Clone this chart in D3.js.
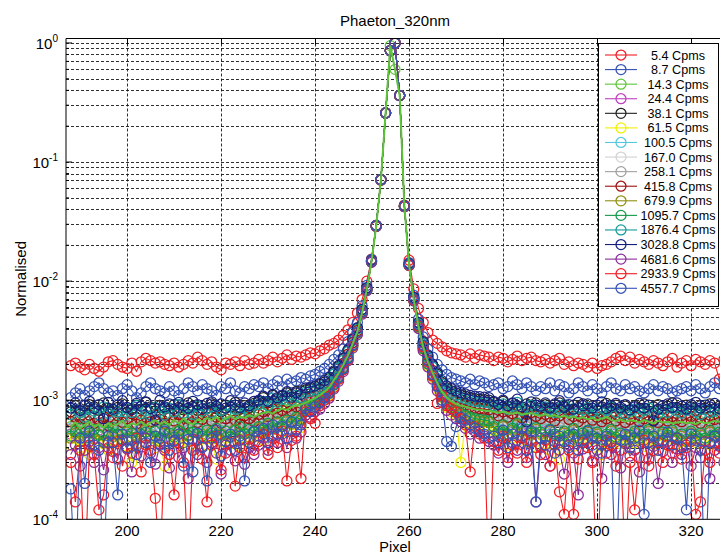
<!DOCTYPE html>
<html lang="en">
<head>
<meta charset="UTF-8">
<title>Phaeton_320nm</title>
<script type="text/javascript" src="https://cdnjs.cloudflare.com/ajax/libs/d3/7.8.5/d3.min.js"></script>
<style>
  body { margin: 0; background: #fff; }
  svg { font-family: "Liberation Sans", Arial, sans-serif; }
</style>
</head>
<body>
<div id="displayhere"></div>
<script>
// Pixel numbers of the samples (188 .. 327)
var firstPixel = 188, lastPixel = 327;
var pixels = d3.range(firstPixel, lastPixel + 1);

// Normalised values, in units of 1e-5 (100000 = 1.0), one row = 10 pixels
var unit = 1e-5;

var cps5_4 = [
  195,205,190,180,200,185,175,190,210,215, 200,190,185,205,175,210,225,215,205,210,
  200,195,205,190,200,215,205,230,215,200, 210,190,180,205,200,210,195,215,200,205,
  220,205,215,230,210,225,240,220,235,230, 240,250,245,260,270,290,300,320,350,390,
  450,540,700,1000,1530,2950,7150,25900,86200,100000, 36300,4350,1500,860,590,450,370,320,300,280,
  260,250,245,240,230,245,225,240,235,230, 215,230,225,210,220,235,215,225,230,215,
  210,220,205,215,225,200,210,195,205,200, 190,205,185,195,200,210,225,235,215,230,
  205,220,210,200,215,205,195,210,225,190, 205,215,195,220,210,200,215,205,150,220];

var cps8_7 = [
  105,115,125,110,120,130,140,125,115,120, 110,125,135,120,105,115,130,140,125,120,
  115,130,120,110,125,140,130,120,135,125, 120,110,130,125,140,120,115,130,125,135,
  130,140,125,135,145,130,150,140,145,155, 150,160,165,175,185,200,220,240,270,310,
  370,450,620,920,1520,2920,7100,25800,86000,99500, 36200,4300,1430,760,480,340,270,230,200,180,
  165,155,150,145,140,150,135,145,140,130, 135,140,125,130,145,135,125,140,130,120,
  130,125,140,120,135,130,115,125,140,130, 120,135,125,115,130,140,125,120,135,125,
  130,120,115,125,135,120,130,125,115,120, 125,130,120,135,125,115,130,140,125,130];

var cps14_3 = [
  60,65,58,62,66,60,63,59,64,61, 63,67,60,64,62,66,61,65,68,63,
  66,62,68,64,70,65,63,69,66,71, 68,72,66,70,74,69,73,71,75,72,
  76,78,80,77,82,85,83,88,90,92, 95,100,104,110,118,128,148,168,198,238,
  298,378,548,848,1460,2890,7090,25750,95000,60000, 36150,4230,1370,700,420,280,210,170,140,118,
  105,98,93,90,88,86,84,83,82,81, 80,79,80,78,77,79,76,77,78,75,
  74,76,73,75,72,74,71,73,70,72, 69,71,68,70,72,68,67,69,66,68,
  67,65,68,66,64,67,65,66,64,65, 66,64,65,63,66,64,65,67,66,68];

var cps24_4 = [
  52,58,50,55,60,48,56,62,53,57, 50,55,61,54,47,58,63,52,56,59,
  54,49,57,62,55,51,60,56,48,58, 61,55,52,59,64,57,53,60,66,58,
  62,68,60,65,70,63,72,67,75,70, 92,95,98,104,112,122,142,162,192,232,
  292,372,545,845,1455,2895,7080,25700,86100,99800, 36100,4235,1365,695,415,275,205,165,135,111,
  97,90,85,81,78,75,73,72,71,70, 66,62,68,64,59,65,61,57,63,60,
  55,61,58,52,57,63,54,59,50,56, 58,53,60,55,49,57,62,54,58,52,
  56,60,51,55,59,53,57,50,56,61, 54,58,52,57,60,53,56,59,51,55];

var cps38_1 = [
  80,90,85,78,92,88,82,95,86,80, 87,93,79,85,91,84,96,88,81,90,
  85,78,92,87,83,95,89,82,90,86, 93,85,80,91,88,96,84,90,87,94,
  98,105,95,110,102,108,115,112,118,120, 122,125,130,135,142,152,172,192,222,262,
  322,402,575,875,1485,2925,7120,25820,86050,99900, 36180,4265,1395,725,445,305,235,195,165,141,
  127,120,115,111,108,105,103,102,101,100, 96,92,98,88,94,90,85,93,89,95,
  86,92,88,83,95,89,84,91,87,93, 85,90,82,88,94,86,91,84,89,83,
  90,86,93,81,88,92,85,89,95,87, 84,91,88,82,90,86,93,85,89,92];

var cps61_5 = [
  42,48,40,45,35,47,50,43,38,46, 44,49,41,30,46,43,48,52,40,45,
  28,44,47,41,49,45,38,46,50,42, 47,32,45,48,43,50,41,46,44,49,
  52,46,55,50,58,54,60,57,62,59, 82,84,88,93,101,111,131,151,181,221,
  281,361,535,835,1445,2885,7060,25750,85950,99700, 36120,4225,1355,685,405,265,195,155,125,101,
  87,80,75,30,68,65,63,62,61,60, 55,50,47,42,48,44,51,46,40,45,
  48,43,38,47,32,50,45,41,48,44, 46,40,49,35,45,42,48,43,47,39,
  44,48,41,46,37,45,50,42,47,43, 45,40,48,44,38,46,42,49,44,47];

var cps100_5 = [
  58,63,55,60,66,57,62,59,64,56, 61,67,58,54,63,60,65,57,62,59,
  64,58,61,66,56,63,59,62,57,65, 60,63,57,64,61,58,66,62,59,63,
  68,72,66,75,70,74,78,73,80,76, 97,99,102,108,116,126,146,166,196,236,
  296,376,550,850,1460,2900,7090,25780,86020,99850, 36150,4240,1370,700,420,280,210,170,140,116,
  102,95,90,86,83,80,78,77,76,75, 72,68,74,66,71,65,69,73,64,70,
  67,62,68,71,60,66,63,69,58,65, 61,66,59,64,68,57,63,60,66,62,
  58,64,61,67,56,63,60,65,59,62, 64,59,66,61,57,63,60,67,62,58];

var cps167_0 = [
  64,59,67,61,56,65,60,63,58,66, 60,64,57,66,61,59,63,68,58,62,
  59,65,62,57,64,60,67,61,58,63, 66,61,64,58,63,67,60,65,61,64,
  70,66,74,69,76,72,78,75,82,79, 99,101,104,110,118,128,148,168,198,238,
  298,378,552,852,1462,2902,7100,25800,86000,99800, 36160,4242,1372,702,422,282,212,172,142,118,
  104,97,92,88,85,82,80,79,78,77, 74,70,76,68,73,67,71,75,66,72,
  69,64,70,73,62,68,65,71,60,67, 63,68,61,66,70,59,65,62,68,64,
  60,66,63,69,58,65,62,67,61,64, 66,61,68,63,59,65,62,69,64,60];

var cps258_1 = [
  57,62,66,59,54,61,65,58,63,60, 66,58,62,55,60,64,57,61,67,59,
  62,56,60,65,58,63,67,59,55,61, 64,59,56,62,66,60,57,63,65,61,
  67,71,65,73,69,75,71,77,74,80, 97,99,102,108,116,126,146,166,196,236,
  296,376,550,850,1460,2900,7100,25800,86000,99800, 36150,4240,1370,700,420,280,210,170,140,116,
  102,95,90,86,83,80,78,77,76,75, 70,66,72,64,69,75,63,68,71,65,
  62,68,64,59,66,70,61,65,58,63, 67,60,64,58,62,66,59,63,57,61,
  64,58,62,66,60,57,63,59,65,61, 58,62,65,60,56,63,59,61,64,58];

var cps415_8 = [
  66,72,63,70,75,64,69,73,61,68, 74,65,70,77,63,68,72,66,75,69,
  64,71,67,76,62,70,73,65,69,78, 67,72,64,70,75,68,63,74,70,66,
  76,80,73,84,78,82,87,81,88,85, 105,107,110,116,124,134,154,174,204,244,
  304,384,558,858,1468,2908,7105,25810,86030,99800, 36170,4248,1378,708,428,288,218,178,148,124,
  110,103,98,94,91,88,86,85,84,83, 78,74,80,72,77,83,71,76,79,73,
  70,76,72,67,74,78,69,73,66,71, 75,68,72,66,70,74,67,71,65,69,
  72,66,70,74,68,65,71,67,73,69, 66,70,73,68,64,71,67,69,72,66];

var cps679_9 = [
  48,53,45,50,56,47,52,44,55,49, 51,46,54,49,43,52,57,48,50,45,
  53,47,51,56,44,50,54,46,52,49, 55,48,52,45,50,57,47,53,49,54,
  58,54,62,57,64,60,66,63,70,67, 87,89,92,98,106,116,136,156,186,226,
  286,366,540,840,1450,2890,7080,25760,85980,99750, 36130,4230,1360,690,410,270,200,160,130,106,
  92,85,80,76,73,70,68,67,66,65, 58,53,60,50,56,62,48,55,51,57,
  52,47,55,50,44,53,49,56,46,51, 54,48,52,45,50,55,47,51,44,49,
  53,46,50,55,48,44,52,49,54,47, 50,45,53,48,51,46,54,49,52,47];

var cps1095_7 = [
  50,55,58,48,53,57,51,46,54,59, 52,47,56,53,49,58,54,50,55,48,
  57,53,49,55,60,51,54,58,50,56, 53,58,51,55,49,56,60,52,57,54,
  60,56,64,59,66,62,68,65,72,69, 89,91,94,100,108,118,138,158,188,228,
  288,368,542,842,1452,2892,7085,25770,85990,99760, 36140,4232,1362,692,412,272,202,162,132,108,
  94,87,82,78,75,72,70,69,68,67, 60,55,62,52,58,64,50,57,53,59,
  54,49,57,52,46,55,51,58,48,53, 56,50,54,47,52,57,49,53,46,51,
  55,48,52,57,50,46,54,51,56,49, 52,47,55,50,53,48,56,51,54,49];

var cps1876_4 = [
  76,84,79,72,86,81,75,88,78,83, 80,73,85,79,90,77,82,74,87,81,
  75,86,80,92,78,83,76,89,81,85, 79,88,82,76,90,84,78,86,80,91,
  92,98,90,104,96,102,108,100,110,105, 117,119,122,128,136,146,166,186,216,256,
  316,396,570,870,1480,2920,7110,25820,86040,99850, 36180,4260,1390,720,440,300,230,190,160,136,
  122,115,110,106,103,100,98,97,96,95, 90,86,93,84,89,96,82,88,91,85,
  82,88,84,79,86,92,81,85,78,83, 87,80,84,78,82,88,79,83,77,81,
  84,78,82,86,80,77,83,79,85,81, 78,82,85,80,76,83,79,81,84,78];

var cps3028_8 = [
  86,95,82,90,98,85,92,70,96,84, 91,99,87,83,94,89,97,85,68,100,
  88,93,84,96,90,86,98,92,85,94, 97,89,93,86,99,91,87,95,90,98,
  100,108,98,112,105,110,118,106,115,112, 127,129,132,138,146,156,176,196,226,266,
  326,406,580,880,1490,2930,7120,25850,86080,99900, 36200,4270,1400,730,450,310,240,200,170,146,
  132,125,120,116,113,110,108,107,106,105, 98,92,100,90,95,102,88,66,97,91,
  89,95,86,93,99,87,92,84,96,90, 93,86,91,97,85,90,94,87,92,83,
  88,94,86,91,67,84,90,93,87,95, 89,84,92,96,86,91,88,94,85,90];

var cps4681_6 = [
  35,42,28,38,45,30,40,26,44,37, 32,46,39,25,41,34,48,36,29,43,
  38,27,45,33,40,22,47,35,41,30, 44,36,24,42,38,31,46,29,40,35,
  42,48,38,50,44,52,40,55,48,54, 75,72,80,84,94,104,124,144,174,214,
  274,354,528,828,1440,2880,7070,25750,86000,99800, 36120,4220,1350,680,400,260,190,150,120,96,
  82,75,70,66,58,52,55,48,50,45, 42,36,48,30,44,38,50,33,46,14,
  40,35,28,45,38,24,42,36,16,39, 44,31,38,22,46,35,40,27,43,34,
  38,25,44,32,41,20,37,45,30,39, 35,42,28,40,33,45,22,38,41,30];

var cps2933_9 = [
  30,14,38,3,42,35,12,16,40,33, 45,28,40,36,48,25,42,38,15,4,
  40,35,16,44,30,4,38,46,32,14, 42,50,26,36,44,19,40,33,47,38,
  45,52,35,48,40,55,21,46,50,22, 80,70,64,90,100,108,128,150,180,220,
  285,370,545,850,1470,2900,7080,25780,86050,99900, 36200,4230,1360,700,420,280,210,160,94,110,
  90,85,80,70,62,25,60,52,48,3, 45,38,50,33,42,36,48,30,44,40,
  35,46,28,42,17,11,38,11,32,44, 40,30,3,42,36,45,28,38,4,30,
  12,33,46,28,38,44,30,42,36,48, 32,40,45,11,14,38,30,44,36,42];

var cps4557_7 = [
  18,3,48,20,55,42,38,3,50,44, 16,52,40,46,35,58,44,30,50,42,
  55,38,46,52,28,47,25,53,40,21, 48,56,34,45,52,38,50,21,44,55,
  50,58,44,62,52,60,48,66,56,62, 85,80,88,95,104,114,134,154,184,224,
  290,372,548,850,1470,2920,7110,25850,86200,100000, 36300,4260,1380,710,430,290,215,165,130,100,
  45,41,60,72,68,62,58,55,52,48, 50,44,56,40,52,46,58,38,55,14,
  48,42,56,36,50,45,40,52,38,46, 55,42,48,36,50,44,3,46,52,40,
  48,56,11,44,50,38,46,54,42,48, 40,12,52,46,38,3,44,50,42,56];

var seriesValues = [cps5_4, cps8_7, cps14_3, cps24_4, cps38_1, cps61_5, cps100_5, cps167_0,
  cps258_1, cps415_8, cps679_9, cps1095_7, cps1876_4, cps3028_8, cps4681_6, cps2933_9, cps4557_7];
var seriesLabels = ["5.4 Cpms", "8.7 Cpms", "14.3 Cpms", "24.4 Cpms", "38.1 Cpms", "61.5 Cpms",
  "100.5 Cpms", "167.0 Cpms", "258.1 Cpms", "415.8 Cpms", "679.9 Cpms", "1095.7 Cpms",
  "1876.4 Cpms", "3028.8 Cpms", "4681.6 Cpms", "2933.9 Cpms", "4557.7 Cpms"];
var seriesColors = ["#f01e23", "#3553b5", "#5ec43a", "#c040c0", "#222222", "#f0f000",
  "#55c8e0", "#d2d2d2", "#a0a0a0", "#a01010", "#8f8f10", "#12994a", "#169a9a",
  "#15207e", "#8a2b9a", "#f01e23", "#3553b5"];
var xTicks = [200, 220, 240, 260, 280, 300, 320];
var yDecades = [-4, -3, -2, -1, 0];

// Size of chart
var w = 720, h = 554;
var plotLeft = 66, plotRight = 724, plotTop = 38.5, plotBottom = 519.3;

var x = d3.scaleLinear().domain([187, 327]).range([plotLeft, plotRight]);
var y = d3.scaleLog().domain([1e-4, 1.09]).range([plotBottom, plotTop]);

var svg = d3.select("#displayhere").append("svg")
  .attr("width", w).attr("height", h);

svg.append("defs").append("clipPath").attr("id", "plotclip")
  .append("rect")
  .attr("x", plotLeft).attr("y", plotTop)
  .attr("width", plotRight - plotLeft).attr("height", plotBottom - plotTop);

// grid
var grid = svg.append("g")
  .attr("stroke", "#000").attr("stroke-width", 0.9)
  .attr("stroke-dasharray", "3,2").attr("opacity", 0.9);
var gridValues = [];
yDecades.forEach(function(k) {
  if (k === 0) { gridValues.push(1); return; }
  for (var m = 1; m < 10; m++) {
    if (k === -4 && m === 1) continue;
    gridValues.push(m * Math.pow(10, k));
  }
});
grid.selectAll("line.h").data(gridValues).enter().append("line")
  .attr("x1", plotLeft).attr("x2", plotRight)
  .attr("y1", function(d) { return Math.round(y(d)) + 0.5; })
  .attr("y2", function(d) { return Math.round(y(d)) + 0.5; });
grid.selectAll("line.v").data(xTicks).enter().append("line")
  .attr("y1", plotTop).attr("y2", plotBottom)
  .attr("x1", function(d) { return Math.round(x(d)) + 0.5; })
  .attr("x2", function(d) { return Math.round(x(d)) + 0.5; });

// data
var plot = svg.append("g").attr("clip-path", "url(#plotclip)");
var line = d3.line()
  .x(function(d, i) { return x(pixels[i]); })
  .y(function(d) { return y(d * unit); });

seriesValues.forEach(function(vals, s) {
  var g = plot.append("g");
  g.append("path").datum(vals)
    .attr("d", line)
    .attr("fill", "none")
    .attr("stroke", seriesColors[s])
    .attr("stroke-width", 1.1);
  g.selectAll("circle").data(vals).enter().append("circle")
    .attr("cx", function(d, i) { return x(pixels[i]); })
    .attr("cy", function(d) { return y(d * unit); })
    .attr("r", 5)
    .attr("fill", "none")
    .attr("stroke", seriesColors[s])
    .attr("stroke-width", 1.25);
});

// the 14.3 Cpms curve sits on top of everything as a thick line
plot.append("path").datum(cps14_3)
  .attr("d", line)
  .attr("fill", "none")
  .attr("stroke", seriesColors[2])
  .attr("stroke-width", 2);

// axes box and ticks
var axes = svg.append("g").attr("stroke", "#000").attr("stroke-width", 1);
axes.append("line").attr("x1", plotLeft).attr("x2", plotRight).attr("y1", plotTop).attr("y2", plotTop);
axes.append("line").attr("x1", plotLeft).attr("x2", plotRight).attr("y1", plotBottom).attr("y2", plotBottom);
axes.append("line").attr("x1", plotLeft).attr("x2", plotLeft).attr("y1", plotTop).attr("y2", plotBottom);

xTicks.forEach(function(t) {
  var px = Math.round(x(t)) + 0.5;
  axes.append("line").attr("x1", px).attr("x2", px).attr("y1", plotBottom).attr("y2", plotBottom - 6);
  axes.append("line").attr("x1", px).attr("x2", px).attr("y1", plotTop).attr("y2", plotTop + 6);
});
gridValues.concat([1e-4]).forEach(function(v) {
  var py = y(v);
  var major = Math.abs(Math.log10(v) - Math.round(Math.log10(v))) < 1e-9;
  axes.append("line").attr("x1", plotLeft).attr("x2", plotLeft + (major ? 6 : 3))
    .attr("y1", py).attr("y2", py);
});

var labels = svg.append("g").attr("fill", "#000");
labels.selectAll("text.xt").data(xTicks).enter().append("text")
  .attr("x", function(d) { return x(d); })
  .attr("y", 536)
  .attr("text-anchor", "middle")
  .attr("font-size", "15px")
  .text(function(d) { return d; });

yDecades.forEach(function(k) {
  var t = labels.append("text")
    .attr("x", 58).attr("y", y(Math.pow(10, k)) + 6)
    .attr("text-anchor", "end")
    .attr("font-size", "15px");
  t.append("tspan").text("10");
  t.append("tspan").attr("dy", -7).attr("font-size", "10px")
    .text(k === 0 ? "0" : "-" + (-k));
});

labels.append("text")
  .attr("x", (plotLeft + plotRight) / 2).attr("y", 26)
  .attr("text-anchor", "middle").attr("font-size", "15px")
  .text("Phaeton_320nm");
labels.append("text")
  .attr("x", (plotLeft + plotRight) / 2).attr("y", 552)
  .attr("text-anchor", "middle").attr("font-size", "14.5px")
  .text("Pixel");
labels.append("text")
  .attr("transform", "translate(26," + (plotTop + plotBottom) / 2 + ") rotate(-90)")
  .attr("text-anchor", "middle").attr("font-size", "15px")
  .text("Normalised");

// legend
var legend = svg.append("g");
legend.append("rect")
  .attr("x", 598.5).attr("y", 43.5).attr("width", 120).attr("height", 263)
  .attr("fill", "#fff").attr("stroke", "#000").attr("stroke-width", 1);
var rowGap = 14.58;
seriesLabels.forEach(function(lab, s) {
  var ry = 55 + s * rowGap;
  legend.append("line")
    .attr("x1", 605).attr("x2", 637).attr("y1", ry).attr("y2", ry)
    .attr("stroke", seriesColors[s]).attr("stroke-width", 1.1);
  legend.append("circle")
    .attr("cx", 621).attr("cy", ry).attr("r", 5)
    .attr("fill", "none").attr("stroke", seriesColors[s]).attr("stroke-width", 1.25);
  legend.append("text")
    .attr("x", 678).attr("y", ry + 4.5)
    .attr("text-anchor", "middle").attr("font-size", "12.6px")
    .text(lab);
});
</script>
</body>
</html>
